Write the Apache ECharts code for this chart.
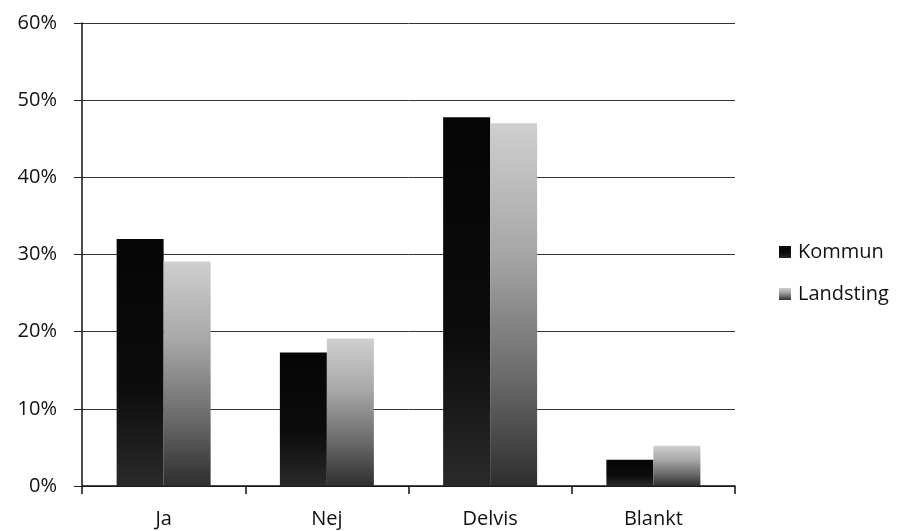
<!DOCTYPE html>
<html>
<head>
<meta charset="utf-8">
<script src="https://cdn.jsdelivr.net/npm/echarts@6/dist/echarts.min.js"></script>
<style>
  html, body { margin: 0; padding: 0; background: #fff; }
  #chart { width: 898px; height: 531px; }
</style>
</head>
<body>
<div id="chart"></div>
<script>
// Answer categories and share of respondents (%) per organisation type
var categories = ['Ja', 'Nej', 'Delvis', 'Blankt'];
var kommun = [32.0, 17.3, 47.8, 3.4];
var landsting = [29.1, 19.1, 47.0, 5.2];
var seriesNames = ['Kommun', 'Landsting'];

var FONT = '"Open Sans", Lato, sans-serif';

var chart = echarts.init(document.getElementById('chart'), null, { renderer: 'canvas' });

function vGrad(stops) {
  return new echarts.graphic.LinearGradient(0, 0, 0, 1, stops.map(function (s) {
    return { offset: s[0], color: s[1] };
  }));
}

chart.setOption({
  backgroundColor: '#ffffff',
  animation: false,
  textStyle: { fontFamily: FONT },
  grid: { left: 82, right: 163, top: 23, bottom: 45 },
  legend: {
    orient: 'vertical',
    left: 774,
    top: 237,
    itemWidth: 12,
    itemHeight: 12,
    itemGap: 22,
    icon: 'rect',
    textStyle: { fontFamily: FONT, fontSize: 20, lineHeight: 20, color: '#111', padding: [0, 0, 0, 2] },
    data: seriesNames
  },
  xAxis: {
    type: 'category',
    data: categories,
    axisLine: { show: true, lineStyle: { color: '#111', width: 1.5 } },
    axisTick: { show: true, length: 8, alignWithLabel: false, lineStyle: { color: '#111', width: 1.5 } },
    axisLabel: { fontFamily: FONT, fontSize: 20, color: '#111', margin: 23 }
  },
  yAxis: {
    type: 'value',
    min: 0,
    max: 60,
    interval: 10,
    axisLine: { show: true, lineStyle: { color: '#111', width: 1.5 } },
    axisTick: { show: true, length: 8, lineStyle: { color: '#222', width: 1 } },
    splitLine: { show: true, lineStyle: { color: '#333', width: 1 } },
    axisLabel: {
      fontFamily: FONT, fontSize: 20, color: '#111', margin: 25,
      formatter: function (v) { return v + '%'; }
    }
  },
  series: [
    {
      name: seriesNames[0],
      type: 'bar',
      data: kommun,
      barWidth: 47,
      barGap: '0%',
      itemStyle: { color: vGrad([[0, '#050505'], [0.6, '#0c0c0c'], [1, '#2a2a2a']]) }
    },
    {
      name: seriesNames[1],
      type: 'bar',
      data: landsting,
      barWidth: 47,
      itemStyle: { color: vGrad([[0, '#cfcfcf'], [0.35, '#a8a8a8'], [0.7, '#6a6a6a'], [1, '#2e2e2e']]) }
    }
  ]
});
</script>
</body>
</html>
